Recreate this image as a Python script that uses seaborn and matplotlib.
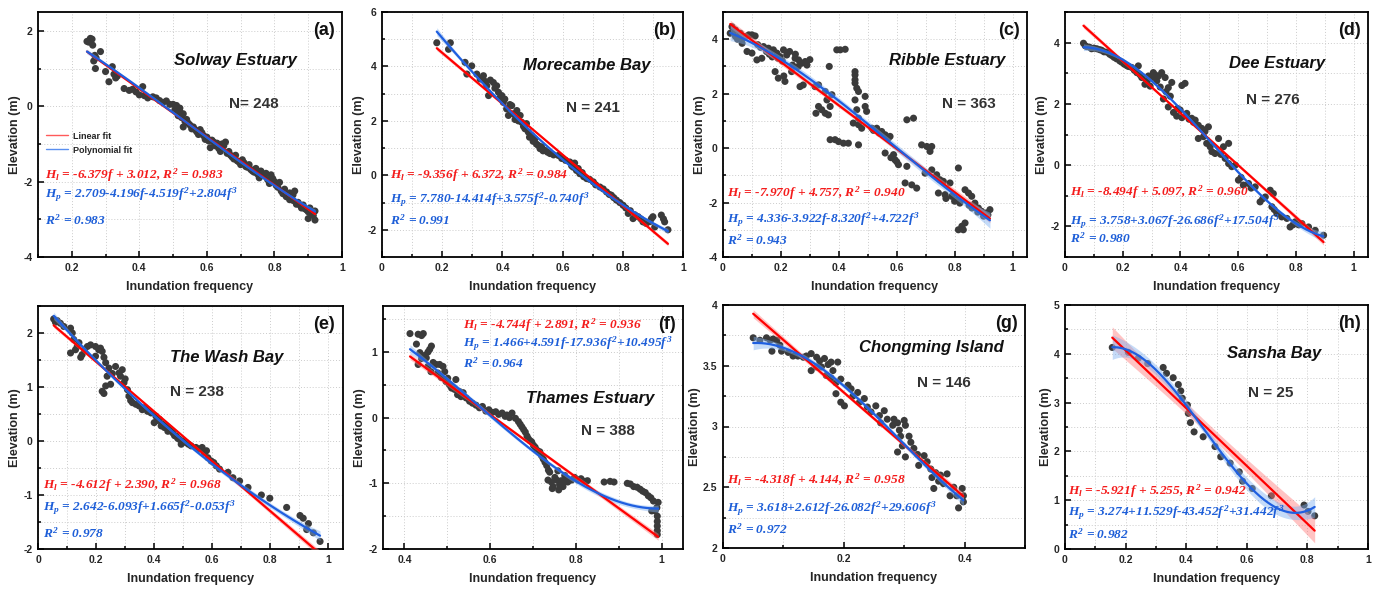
import numpy as np
import pandas as pd
import matplotlib
matplotlib.use("Agg")
import matplotlib.pyplot as plt
from matplotlib.lines import Line2D
from matplotlib.ticker import MultipleLocator, FuncFormatter
import seaborn as sns

sns.set_theme(style="ticks")
plt.rcParams["font.family"] = ["Liberation Sans", "DejaVu Sans"]
plt.rcParams["mathtext.fontset"] = "custom"
for key in ("rm", "it", "bf", "sf"):
    plt.rcParams[f"mathtext.{key}"] = "Liberation Serif:italic:bold"

# ---------------------------------------------------------------- data
sites = ["Solway Estuary", "Morecambe Bay", "Ribble Estuary", "Dee Estuary",
         "The Wash Bay", "Thames Estuary", "Chongming Island", "Sansha Bay"]
panel_tags = ["(a)", "(b)", "(c)", "(d)", "(e)", "(f)", "(g)", "(h)"]
n_obs = [248, 241, 363, 276, 238, 388, 146, 25]
n_text = ["N= 248", "N = 241", "N = 363", "N = 276",
          "N = 238", "N = 388", "N = 146", "N = 25"]

# linear fit H_l = slope*f + intercept
lin_slope = [-6.379, -9.356, -7.970, -8.494, -4.612, -4.744, -4.318, -5.921]
lin_icpt = [3.012, 6.372, 4.757, 5.097, 2.390, 2.891, 4.144, 5.255]
lin_r2 = [0.983, 0.984, 0.940, 0.960, 0.968, 0.936, 0.958, 0.942]

# cubic fit H_p = c0 + c1 f + c2 f^2 + c3 f^3
# (Morecambe Bay: the fitted cubic term is +0.740; the printed equation shows -0.740)
poly_c0 = [2.709, 7.780, 4.336, 3.758, 2.642, 1.466, 3.618, 3.274]
poly_c1 = [-4.196, -14.414, -3.922, 3.067, -6.093, 4.591, 2.612, 11.529]
poly_c2 = [-4.519, 3.575, -8.320, -26.686, 1.665, -17.936, -26.082, -43.452]
poly_c3 = [2.804, 0.740, 4.722, 17.504, -0.053, 10.495, 29.606, 31.442]
poly_r2 = [0.983, 0.991, 0.943, 0.980, 0.978, 0.964, 0.972, 0.982]
poly_eq = [
    "2.709-4.196$f$-4.519$f^2$+2.804$f^3$",
    "7.780-14.414$f$+3.575$f^2$-0.740$f^3$",
    "4.336-3.922$f$-8.320$f^2$+4.722$f^3$",
    "3.758+3.067$f$-26.686$f^2$+17.504$f^3$",
    "2.642-6.093$f$+1.665$f^2$-0.053$f^3$",
    "1.466+4.591$f$-17.936$f^2$+10.495$f^3$",
    "3.618+2.612$f$-26.082$f^2$+29.606$f^3$",
    "3.274+11.529$f$-43.452$f^2$+31.442$f^3$",
]

# (inundation frequency, elevation in m)
solway = [
    (0.245, 1.72), (0.250, 1.70), (0.255, 1.80), (0.260, 1.78), (0.262, 1.62), (0.265, 1.20),
    (0.268, 1.35), (0.270, 1.00), (0.272, 1.28), (0.285, 1.45), (0.300, 0.92), (0.310, 0.65),
    (0.320, 1.05), (0.325, 0.85), (0.330, 0.75), (0.335, 0.80), (0.355, 0.47), (0.370, 0.42),
    (0.380, 0.45), (0.390, 0.38), (0.400, 0.30), (0.410, 0.52), (0.415, 0.28), (0.425, 0.22),
    (0.440, 0.25), (0.450, 0.22), (0.460, 0.15), (0.470, 0.10), (0.480, 0.14), (0.490, 0.05),
    (0.500, 0.05), (0.505, -0.10), (0.510, 0.02), (0.515, -0.25), (0.520, -0.15), (0.525, -0.30),
    (0.530, -0.55), (0.535, -0.40), (0.540, -0.35), (0.550, -0.50), (0.555, -0.60), (0.560, -0.55),
    (0.570, -0.68), (0.575, -0.75), (0.580, -0.62), (0.590, -0.78), (0.600, -0.82), (0.610, -1.10),
    (0.615, -0.90), (0.620, -0.95), (0.630, -0.98), (0.640, -1.20), (0.650, -1.05), (0.655, -0.95),
    (0.660, -1.25), (0.670, -1.30), (0.680, -1.40), (0.690, -1.45), (0.700, -1.55), (0.710, -1.50),
    (0.720, -1.62), (0.730, -1.68), (0.740, -1.75), (0.750, -1.80), (0.760, -1.72), (0.770, -1.85),
    (0.780, -1.95), (0.790, -1.82), (0.800, -2.00), (0.810, -2.15), (0.820, -2.25), (0.830, -2.20),
    (0.840, -2.35), (0.845, -2.30), (0.850, -2.45), (0.855, -2.50), (0.860, -2.25), (0.870, -2.55),
    (0.875, -2.62), (0.880, -2.70), (0.890, -2.72), (0.900, -2.80), (0.910, -2.85), (0.920, -2.78),
    (0.900, -2.98), (0.920, -3.02), (0.520, -0.05), (0.530, -0.20), (0.545, -0.45), (0.565, -0.62),
    (0.585, -0.70), (0.595, -0.88), (0.605, -0.92), (0.625, -1.05), (0.635, -1.12), (0.645, -1.00),
    (0.665, -1.20), (0.675, -1.35), (0.685, -1.30), (0.695, -1.48), (0.705, -1.42), (0.715, -1.60),
    (0.725, -1.55), (0.735, -1.72), (0.745, -1.65), (0.755, -1.90), (0.765, -1.82), (0.775, -1.78),
    (0.785, -2.05), (0.795, -1.92), (0.805, -2.10), (0.815, -2.02), (0.825, -2.32), (0.835, -2.40),
    (0.845, -2.48), (0.855, -2.35), (0.865, -2.60), (0.885, -2.62), (0.895, -2.75), (0.905, -2.70),
    (0.915, -2.90),
]

morecambe = [
    (0.182, 4.87), (0.227, 4.87), (0.221, 4.63), (0.276, 4.15), (0.282, 3.72), (0.298, 4.02),
    (0.315, 3.72), (0.326, 3.54), (0.337, 3.66), (0.343, 3.45), (0.348, 3.29), (0.354, 2.93),
    (0.360, 3.50), (0.370, 3.41), (0.375, 3.20), (0.381, 3.29), (0.387, 3.05), (0.392, 2.85),
    (0.398, 2.93), (0.403, 2.68), (0.408, 2.80), (0.414, 2.44), (0.420, 2.20), (0.425, 2.60),
    (0.431, 2.56), (0.436, 2.26), (0.442, 2.05), (0.448, 2.38), (0.453, 2.00), (0.459, 2.20),
    (0.464, 1.95), (0.470, 1.80), (0.475, 1.71), (0.480, 1.90), (0.486, 1.59), (0.490, 1.40),
    (0.497, 1.46), (0.502, 1.25), (0.508, 1.34), (0.513, 1.15), (0.519, 1.10), (0.525, 0.98),
    (0.530, 1.05), (0.535, 0.90), (0.541, 0.92), (0.550, 0.85), (0.558, 0.80), (0.570, 0.75),
    (0.586, 0.73), (0.597, 0.62), (0.610, 0.55), (0.624, 0.49), (0.630, 0.35), (0.635, 0.30),
    (0.640, 0.45), (0.646, 0.18), (0.652, 0.25), (0.657, 0.06), (0.665, 0.10), (0.670, -0.05),
    (0.680, -0.12), (0.690, -0.15), (0.702, -0.24), (0.710, -0.35), (0.724, -0.43), (0.735, -0.50),
    (0.746, -0.61), (0.755, -0.70), (0.762, -0.73), (0.770, -0.82), (0.779, -0.91), (0.790, -1.00),
    (0.801, -1.10), (0.810, -1.20), (0.818, -1.40), (0.825, -1.30), (0.834, -1.59), (0.840, -1.45),
    (0.851, -1.52), (0.860, -1.60), (0.867, -1.71), (0.878, -1.77), (0.890, -1.70), (0.895, -1.59),
    (0.900, -1.52), (0.906, -1.90), (0.928, -1.46), (0.935, -1.60), (0.939, -1.71), (0.950, -2.00),
]

ribble = [
    (0.031, 4.46), (0.043, 4.34), (0.025, 4.22), (0.043, 4.10), (0.060, 4.22), (0.077, 4.10),
    (0.089, 4.16), (0.100, 4.16), (0.111, 4.12), (0.066, 3.85), (0.083, 3.55), (0.100, 3.49),
    (0.117, 3.24), (0.134, 3.30), (0.140, 3.73), (0.157, 3.67), (0.174, 3.61), (0.186, 3.49),
    (0.197, 3.36), (0.209, 3.61), (0.220, 3.42), (0.180, 2.81), (0.191, 2.57), (0.214, 2.45),
    (0.237, 2.81), (0.249, 3.30), (0.261, 3.24), (0.272, 3.12), (0.284, 3.18), (0.266, 2.26),
    (0.277, 2.32), (0.318, 2.26), (0.330, 2.32), (0.321, 1.28), (0.330, 1.53), (0.341, 1.41),
    (0.353, 1.28), (0.364, 1.22), (0.359, 1.77), (0.353, 2.08), (0.370, 1.53), (0.376, 1.96),
    (0.370, 0.31), (0.387, 0.31), (0.399, 0.24), (0.416, 0.18), (0.433, 0.18), (0.393, 3.61),
    (0.405, 3.61), (0.422, 3.63), (0.367, 3.00), (0.456, 2.81), (0.456, 2.69), (0.456, 2.51),
    (0.456, 2.39), (0.462, 2.20), (0.468, 2.08), (0.456, 1.77), (0.462, 1.41), (0.468, 1.10),
    (0.450, 0.92), (0.468, 0.86), (0.491, 1.90), (0.491, 1.53), (0.496, 1.35), (0.479, 0.73),
    (0.468, 0.12), (0.514, 0.73), (0.531, 0.73), (0.548, 0.61), (0.560, 0.49), (0.577, 0.43),
    (0.560, -0.18), (0.589, -0.24), (0.594, -0.43), (0.606, -0.61), (0.635, -0.67), (0.635, 1.04),
    (0.658, 1.10), (0.629, -1.28), (0.652, -1.35), (0.669, -1.47), (0.686, 0.12), (0.704, 0.06),
    (0.721, 0.06), (0.715, -0.12), (0.698, -0.92), (0.721, -0.80), (0.738, -0.98), (0.749, -1.16),
    (0.761, -1.22), (0.784, -1.28), (0.813, -0.73), (0.744, -1.65), (0.767, -1.71), (0.790, -1.77),
    (0.807, -1.90), (0.818, -2.02), (0.836, -1.53), (0.848, -1.65), (0.859, -1.77), (0.870, -2.02),
    (0.882, -2.20), (0.893, -2.32), (0.910, -2.38), (0.922, -2.26), (0.813, -3.00), (0.825, -2.87),
    (0.836, -2.75), (0.830, -3.00), (0.050, 4.00), (0.070, 4.05), (0.120, 3.80), (0.130, 3.70),
    (0.150, 3.55), (0.160, 3.45), (0.170, 3.35), (0.190, 3.30), (0.205, 3.20), (0.230, 3.55),
    (0.240, 3.05), (0.250, 3.45), (0.260, 3.00), (0.290, 3.05), (0.300, 3.25), (0.210, 2.65),
    (0.520, 0.65), (0.540, 0.55), (0.570, 0.35), (0.580, -0.35), (0.600, -0.50), (0.770, -1.85),
    (0.800, -1.95), (0.850, -2.10), (0.860, -2.20), (0.880, -2.35), (0.900, -2.50), (0.915, -2.45),
]

dee = [
    (0.064, 3.98), (0.070, 3.90), (0.075, 3.87), (0.085, 3.85), (0.092, 3.80), (0.100, 3.82),
    (0.110, 3.80), (0.120, 3.77), (0.127, 3.75), (0.135, 3.70), (0.145, 3.69), (0.155, 3.62),
    (0.162, 3.58), (0.170, 3.52), (0.179, 3.47), (0.190, 3.40), (0.197, 3.36), (0.205, 3.30),
    (0.214, 3.25), (0.220, 3.22), (0.231, 3.19), (0.240, 3.10), (0.249, 3.02), (0.254, 3.24),
    (0.260, 2.95), (0.266, 2.86), (0.277, 2.64), (0.285, 2.75), (0.289, 2.91), (0.295, 2.58),
    (0.300, 2.85), (0.306, 3.02), (0.312, 2.95), (0.318, 2.75), (0.324, 2.91), (0.330, 2.55),
    (0.335, 3.02), (0.341, 2.16), (0.347, 2.86), (0.350, 2.40), (0.358, 2.53), (0.358, 1.90),
    (0.365, 2.25), (0.370, 2.70), (0.376, 1.72), (0.387, 1.60), (0.390, 1.85), (0.399, 1.80),
    (0.405, 2.60), (0.405, 1.55), (0.416, 2.67), (0.422, 1.69), (0.430, 1.50), (0.439, 1.53),
    (0.445, 1.40), (0.451, 1.47), (0.462, 1.30), (0.462, 0.87), (0.474, 1.20), (0.480, 0.93),
    (0.485, 1.10), (0.491, 0.71), (0.497, 1.25), (0.503, 0.60), (0.509, 0.44), (0.520, 0.38),
    (0.532, 0.87), (0.540, 0.35), (0.549, 0.60), (0.555, 0.22), (0.567, 0.71), (0.567, 0.05),
    (0.578, -0.05), (0.590, 0.00), (0.601, -0.49), (0.610, -0.40), (0.618, -0.65), (0.636, -0.60),
    (0.645, -0.75), (0.659, -0.71), (0.676, -1.20), (0.685, -1.10), (0.694, -1.04), (0.711, -0.82),
    (0.722, -0.93), (0.717, -1.36), (0.725, -1.45), (0.734, -1.58), (0.751, -1.69), (0.769, -1.74),
    (0.780, -2.02), (0.790, -1.95), (0.798, -1.85), (0.810, -1.95), (0.821, -1.91), (0.844, -2.02),
    (0.867, -2.13), (0.896, -2.29),
]

wash = [
    (0.054, 2.26), (0.060, 2.20), (0.066, 2.23), (0.077, 2.18), (0.089, 2.12), (0.112, 2.09),
    (0.118, 2.00), (0.123, 1.88), (0.112, 1.63), (0.129, 1.69), (0.135, 1.75), (0.141, 1.82),
    (0.147, 1.55), (0.152, 1.60), (0.160, 1.70), (0.170, 1.75), (0.181, 1.78), (0.198, 1.75),
    (0.209, 1.69), (0.198, 1.57), (0.215, 1.72), (0.221, 1.66), (0.227, 1.55), (0.233, 1.45),
    (0.244, 1.35), (0.221, 0.92), (0.227, 0.88), (0.233, 1.02), (0.250, 1.05), (0.238, 1.20),
    (0.256, 1.25), (0.267, 1.38), (0.279, 1.26), (0.284, 1.20), (0.290, 1.32), (0.296, 1.08),
    (0.300, 1.15), (0.308, 0.95), (0.313, 0.83), (0.319, 0.75), (0.325, 0.71), (0.337, 0.68),
    (0.348, 0.65), (0.359, 0.58), (0.368, 0.62), (0.377, 0.55), (0.389, 0.52), (0.400, 0.34),
    (0.406, 0.46), (0.412, 0.38), (0.418, 0.40), (0.424, 0.28), (0.429, 0.31), (0.435, 0.25),
    (0.441, 0.28), (0.447, 0.18), (0.452, 0.22), (0.458, 0.20), (0.464, 0.15), (0.470, 0.10),
    (0.475, 0.09), (0.481, 0.05), (0.487, 0.03), (0.493, -0.06), (0.500, 0.00), (0.510, -0.03),
    (0.518, -0.06), (0.527, -0.09), (0.544, -0.12), (0.556, -0.15), (0.565, -0.12), (0.573, -0.22),
    (0.580, -0.18), (0.585, -0.31), (0.596, -0.37), (0.605, -0.40), (0.614, -0.46), (0.625, -0.52),
    (0.654, -0.58), (0.671, -0.68), (0.694, -0.74), (0.723, -0.86), (0.769, -1.00), (0.798, -1.06),
    (0.856, -1.23), (0.902, -1.38), (0.913, -1.43), (0.931, -1.53), (0.925, -1.64), (0.948, -1.70),
    (0.971, -1.86),
]

thames = [
    (0.413, 1.28), (0.432, 1.27), (0.444, 1.28), (0.440, 1.25), (0.428, 1.12), (0.436, 0.99),
    (0.432, 0.81), (0.440, 0.90), (0.448, 0.95), (0.451, 0.91), (0.455, 1.00), (0.459, 1.04),
    (0.463, 1.09), (0.455, 0.78), (0.462, 0.70), (0.467, 0.84), (0.474, 0.81), (0.478, 0.68),
    (0.482, 0.81), (0.486, 0.61), (0.490, 0.78), (0.494, 0.70), (0.497, 0.55), (0.501, 0.60),
    (0.505, 0.50), (0.510, 0.45), (0.517, 0.43), (0.520, 0.58), (0.524, 0.35), (0.528, 0.40),
    (0.532, 0.32), (0.537, 0.38), (0.544, 0.30), (0.552, 0.25), (0.559, 0.22), (0.567, 0.19),
    (0.575, 0.15), (0.582, 0.17), (0.590, 0.10), (0.597, 0.12), (0.605, 0.08), (0.613, 0.09),
    (0.620, 0.05), (0.628, 0.07), (0.635, 0.02), (0.639, 0.04), (0.645, 0.00), (0.651, 0.07),
    (0.659, -0.01), (0.666, -0.06), (0.670, -0.10), (0.674, -0.14), (0.678, -0.18), (0.682, -0.22),
    (0.686, -0.28), (0.689, -0.32), (0.693, -0.35), (0.697, -0.37), (0.701, -0.42), (0.705, -0.45),
    (0.710, -0.50), (0.716, -0.52), (0.720, -0.58), (0.724, -0.63), (0.728, -0.68), (0.732, -0.73),
    (0.736, -0.80), (0.739, -0.83), (0.743, -0.98), (0.747, -1.05), (0.751, -0.91), (0.755, -0.95),
    (0.758, -0.81), (0.762, -1.02), (0.766, -0.96), (0.770, -1.05), (0.774, -0.88), (0.778, -0.92),
    (0.781, -0.98), (0.790, -0.95), (0.797, -0.91), (0.805, -0.95), (0.812, -0.93), (0.820, -0.97),
    (0.827, -0.96), (0.866, -0.98), (0.880, -0.97), (0.889, -0.98), (0.920, -1.00), (0.927, -1.01),
    (0.935, -1.05), (0.943, -1.06), (0.950, -1.09), (0.956, -1.12), (0.962, -1.14), (0.969, -1.19),
    (0.975, -1.22), (0.981, -1.27), (0.985, -1.42), (0.977, -1.42), (0.989, -1.37), (0.992, -1.29),
    (0.990, -1.50), (0.990, -1.58), (0.990, -1.65), (0.990, -1.72), (0.990, -1.78), (0.735, -0.95),
    (0.745, -1.08), (0.760, -1.10), (0.770, -0.99),
]

chongming = [
    (0.050, 3.73), (0.061, 3.71), (0.072, 3.73), (0.078, 3.71), (0.083, 3.72), (0.089, 3.71),
    (0.094, 3.67), (0.081, 3.62), (0.097, 3.62), (0.108, 3.61), (0.116, 3.58), (0.124, 3.58),
    (0.133, 3.57), (0.138, 3.58), (0.146, 3.60), (0.155, 3.57), (0.160, 3.54), (0.146, 3.46),
    (0.155, 3.49), (0.163, 3.49), (0.168, 3.56), (0.174, 3.51), (0.179, 3.53), (0.182, 3.46),
    (0.190, 3.53), (0.171, 3.42), (0.179, 3.40), (0.187, 3.36), (0.195, 3.39), (0.187, 3.27),
    (0.195, 3.20), (0.201, 3.17), (0.207, 3.34), (0.212, 3.31), (0.215, 3.25), (0.223, 3.28),
    (0.226, 3.20), (0.234, 3.23), (0.239, 3.16), (0.245, 3.12), (0.253, 3.17), (0.259, 3.09),
    (0.261, 3.03), (0.267, 3.13), (0.272, 3.06), (0.281, 3.01), (0.283, 3.06), (0.289, 3.03),
    (0.292, 2.97), (0.294, 2.92), (0.300, 3.05), (0.297, 2.84), (0.302, 3.01), (0.308, 2.92),
    (0.311, 2.87), (0.289, 2.79), (0.302, 2.75), (0.316, 2.82), (0.322, 2.77), (0.324, 2.68),
    (0.333, 2.76), (0.338, 2.71), (0.344, 2.65), (0.346, 2.58), (0.349, 2.49), (0.352, 2.62),
    (0.357, 2.55), (0.360, 2.60), (0.365, 2.53), (0.371, 2.61), (0.376, 2.43), (0.382, 2.50),
    (0.387, 2.43), (0.390, 2.33), (0.396, 2.49), (0.398, 2.43), (0.398, 2.38),
]

sansha = [
    (0.156, 4.13), (0.209, 4.03), (0.242, 3.91), (0.273, 3.80), (0.324, 3.72), (0.335, 3.60),
    (0.357, 3.51), (0.374, 3.37), (0.382, 3.24), (0.387, 3.09), (0.404, 2.95), (0.407, 2.78),
    (0.414, 2.59), (0.426, 2.40), (0.456, 2.30), (0.495, 2.10), (0.514, 1.89), (0.545, 1.76),
    (0.575, 1.58), (0.586, 1.39), (0.618, 1.24), (0.681, 1.09), (0.789, 0.90), (0.802, 0.77),
    (0.824, 0.68),
]

site_points = [solway, morecambe, ribble, dee, wash, thames, chongming, sansha]

# ---------------------------------------------------------------- layout
W, H = 1375, 590
# axes boxes in pixels: left, top, right, bottom
boxes = [(38, 12, 342, 257), (382, 12, 683, 257), (723, 12, 1027, 257), (1065, 12, 1368, 257),
         (38, 306, 343, 549), (383, 306, 683, 549), (723, 305, 1025, 548), (1065, 305, 1368, 549)]
xlims = [(0.1, 1.0), (0, 1.0), (0, 1.05), (0, 1.05), (0, 1.05), (0.35, 1.05), (0, 0.5), (0, 1.0)]
ylims = [(-4, 2.5), (-3, 6), (-4, 5), (-3, 5), (-2, 2.5), (-2, 1.7), (2, 4), (0, 5)]
xmajor = [0.2, 0.2, 0.2, 0.2, 0.2, 0.2, 0.2, 0.2]
ymajor = [2, 2, 2, 2, 1, 1, 0.5, 1]
site_xy = [(0.648, 0.80), (0.68, 0.78), (0.737, 0.80), (0.70, 0.79),
           (0.62, 0.79), (0.69, 0.62), (0.69, 0.825), (0.69, 0.80)]
n_xy = [(0.71, 0.625), (0.70, 0.61), (0.81, 0.625), (0.686, 0.64),
        (0.52, 0.645), (0.75, 0.485), (0.73, 0.68), (0.68, 0.64)]
eq_x = [0.023, 0.027, 0.013, 0.016, 0.016, 0.267, 0.013, 0.010]
eq_y = [(0.335, 0.253, 0.151), (0.335, 0.233, 0.151), (0.26, 0.151, 0.069),
        (0.265, 0.143, 0.078), (0.264, 0.17, 0.066), (0.92, 0.845, 0.763),
        (0.28, 0.16, 0.075), (0.237, 0.15, 0.06)]

RED = "#ff0000"
BLUE = "#1f5fe0"
RED_TXT = "#f41c1c"
BLUE_TXT = "#1d5ed8"
DOT = "#3b3b3b"

fmt = FuncFormatter(lambda v, _: f"{v:g}")


def band(x, y, coef, n_total, grid):
    """Half-width of the 95% confidence band of a fit with given coefficients."""
    p = len(coef)
    X = np.vander(x, p, increasing=True)
    resid = y - X @ coef
    s2 = resid @ resid / (len(x) - p)
    cov = s2 * np.linalg.inv(X.T @ X) * len(x) / n_total
    G = np.vander(grid, p, increasing=True)
    se = np.sqrt(np.einsum("ij,jk,ik->i", G, cov, G))
    return 2.0 * se


fig = plt.figure(figsize=(W / 100, H / 100), dpi=100)

for i in range(8):
    l, t, r, b = boxes[i]
    ax = fig.add_axes([l / W, 1 - b / H, (r - l) / W, (b - t) / H])
    df = pd.DataFrame(site_points[i], columns=["freq", "elev"])
    x = df["freq"].to_numpy()
    y = df["elev"].to_numpy()

    sns.scatterplot(data=df, x="freq", y="elev", ax=ax, color=DOT, s=26,
                    edgecolor="none", linewidth=0, zorder=2)

    grid = np.linspace(x.min(), x.max(), 300)
    lin = np.array([lin_icpt[i], lin_slope[i]])
    cub = np.array([poly_c0[i], poly_c1[i], poly_c2[i], poly_c3[i]])
    yl = np.polynomial.polynomial.polyval(grid, lin)
    yp = np.polynomial.polynomial.polyval(grid, cub)
    hl = band(x, y, lin, n_obs[i], grid)
    hp = band(x, y, cub, n_obs[i], grid)
    ax.fill_between(grid, yl - hl, yl + hl, color="#ff7b7b", alpha=0.45, lw=0, zorder=3)
    ax.fill_between(grid, yp - hp, yp + hp, color="#7fb0f0", alpha=0.45, lw=0, zorder=3)
    ax.plot(grid, yl, color=RED, lw=1.6, zorder=4)
    ax.plot(grid, yp, color=BLUE, lw=1.6, zorder=5)

    ax.set_xlim(*xlims[i])
    ax.set_ylim(*ylims[i])
    ax.xaxis.set_major_locator(MultipleLocator(xmajor[i]))
    ax.xaxis.set_minor_locator(MultipleLocator(xmajor[i] / 2))
    ax.yaxis.set_major_locator(MultipleLocator(ymajor[i]))
    ax.yaxis.set_minor_locator(MultipleLocator(ymajor[i] / 2))
    ax.xaxis.set_major_formatter(fmt)
    ax.yaxis.set_major_formatter(fmt)
    ax.grid(which="both", linestyle=(0, (1, 2)), color="#cccccc", linewidth=0.7)
    ax.set_axisbelow(True)
    ax.tick_params(which="both", direction="in", top=False, right=False,
                   width=1.1, color="black")
    ax.tick_params(which="major", length=4, labelsize=7.5, pad=4)
    ax.tick_params(which="minor", length=2)
    for lab in ax.get_xticklabels() + ax.get_yticklabels():
        lab.set_fontweight("bold")
    for sp in ax.spines.values():
        sp.set_color("black")
        sp.set_linewidth(1.3)

    ax.set_xlabel("Inundation frequency", fontsize=9, fontweight="bold", labelpad=6)
    ax.set_ylabel("Elevation (m)", fontsize=9, fontweight="bold", labelpad=1.5)

    ax.text(0.975, 0.925, panel_tags[i], transform=ax.transAxes, ha="right",
            va="center", fontsize=13, fontweight="bold", color="#111111")
    ax.text(*site_xy[i], sites[i], transform=ax.transAxes, ha="center", va="center",
            fontsize=12, fontweight="bold", fontstyle="italic", color="#111111")
    ax.text(*n_xy[i], n_text[i], transform=ax.transAxes, ha="center", va="center",
            fontsize=11, fontweight="bold", color="#333333")

    eq_kw = dict(transform=ax.transAxes, ha="left", va="center", fontsize=9.6,
                 family="Liberation Serif", fontweight="bold", fontstyle="italic")
    lin_txt = (f"$H_l$ = {lin_slope[i]:.3f}$f$ + {lin_icpt[i]:.3f}, "
               f"$R^2$ = {lin_r2[i]:.3f}")
    ax.text(eq_x[i], eq_y[i][0], lin_txt, color=RED_TXT, **eq_kw)
    ax.text(eq_x[i], eq_y[i][1], "$H_p$ = " + poly_eq[i], color=BLUE_TXT, **eq_kw)
    ax.text(eq_x[i], eq_y[i][2], f"$R^2$ = {poly_r2[i]:.3f}", color=BLUE_TXT, **eq_kw)

    if i == 0:
        handles = [Line2D([], [], color="#ff5a5a", lw=1.0),
                   Line2D([], [], color="#5a8ff0", lw=1.0)]
        ax.legend(handles, ["Linear fit", "Polynomial fit"], loc="upper left",
                  bbox_to_anchor=(0.0, 0.545), frameon=False,
                  handlelength=2.4, handletextpad=0.6, labelspacing=0.55,
                  prop={"weight": "bold", "size": 6.5})

fig.savefig("out.png", dpi=100)
